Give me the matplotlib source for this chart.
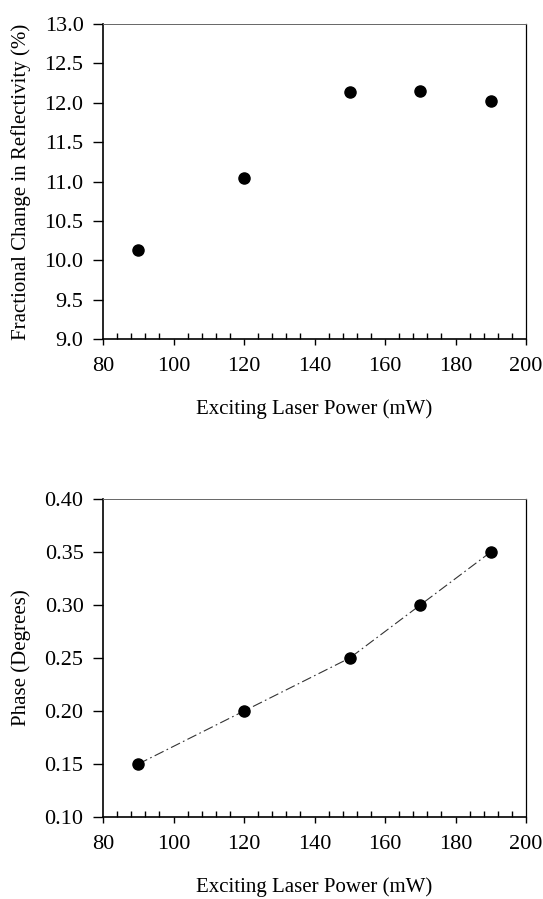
import matplotlib
matplotlib.use('Agg')
import matplotlib.pyplot as plt
from matplotlib.ticker import MultipleLocator

plt.rcParams['font.family'] = ['Liberation Serif', 'DejaVu Serif']

power = [90, 120, 150, 170, 190]
reflectivity = [10.13, 11.05, 12.14, 12.15, 12.02]
phase = [0.15, 0.20, 0.25, 0.30, 0.35]

xticks = [80, 100, 120, 140, 160, 180, 200]
refl_ticks = [9.0, 9.5, 10.0, 10.5, 11.0, 11.5, 12.0, 12.5, 13.0]
phase_ticks = [0.10, 0.15, 0.20, 0.25, 0.30, 0.35, 0.40]


def style_axes(ax, yticks, yfmt):
	ax.set_xlim(80, 200)
	ax.set_ylim(yticks[0], yticks[-1])
	ax.set_xticks(xticks)
	ax.xaxis.set_minor_locator(MultipleLocator(4))
	ax.set_yticks(yticks)
	ax.set_yticklabels([yfmt.format(v) for v in yticks])
	ax.tick_params(axis='x', which='major', direction='out', length=4, width=1, pad=9, labelsize=16)
	ax.tick_params(axis='x', which='minor', direction='in', length=4, width=1)
	ax.tick_params(axis='y', which='major', direction='out', length=7, width=1, pad=7, labelsize=16)
	ax.spines['left'].set_linewidth(1.2)
	ax.spines['bottom'].set_linewidth(1.2)
	ax.spines['right'].set_linewidth(0.9)
	ax.spines['top'].set_linewidth(0.7)
	ax.spines['top'].set_color('#666666')
	ax.set_xlabel("Exciting Laser Power (mW)", fontsize=15)
	ax.xaxis.set_label_coords(0.5, -0.19)


fig = plt.figure(figsize=(5.43, 8.99), dpi=100)

ax1 = fig.add_axes([0.1897, 0.6229, 0.779, 0.3504])
ax1.plot(power, reflectivity, 'o', c='black', markersize=8)
style_axes(ax1, refl_ticks, '{:.1f}')
ax1.set_ylabel("Fractional Change in Reflectivity (%)", fontsize=15)
ax1.yaxis.set_label_coords(-0.17, 0.5)

ax2 = fig.add_axes([0.1897, 0.0912, 0.779, 0.3537])
ax2.plot(power, phase, c='#333333', lw=0.8, dashes=(9, 3, 1.5, 3), marker='o',
	markersize=8, markerfacecolor='black', markeredgecolor='black')
style_axes(ax2, phase_ticks, '{:.2f}')
ax2.set_ylabel("Phase (Degrees)", fontsize=15)
ax2.yaxis.set_label_coords(-0.17, 0.5)

fig.savefig('out.png', dpi=100)
